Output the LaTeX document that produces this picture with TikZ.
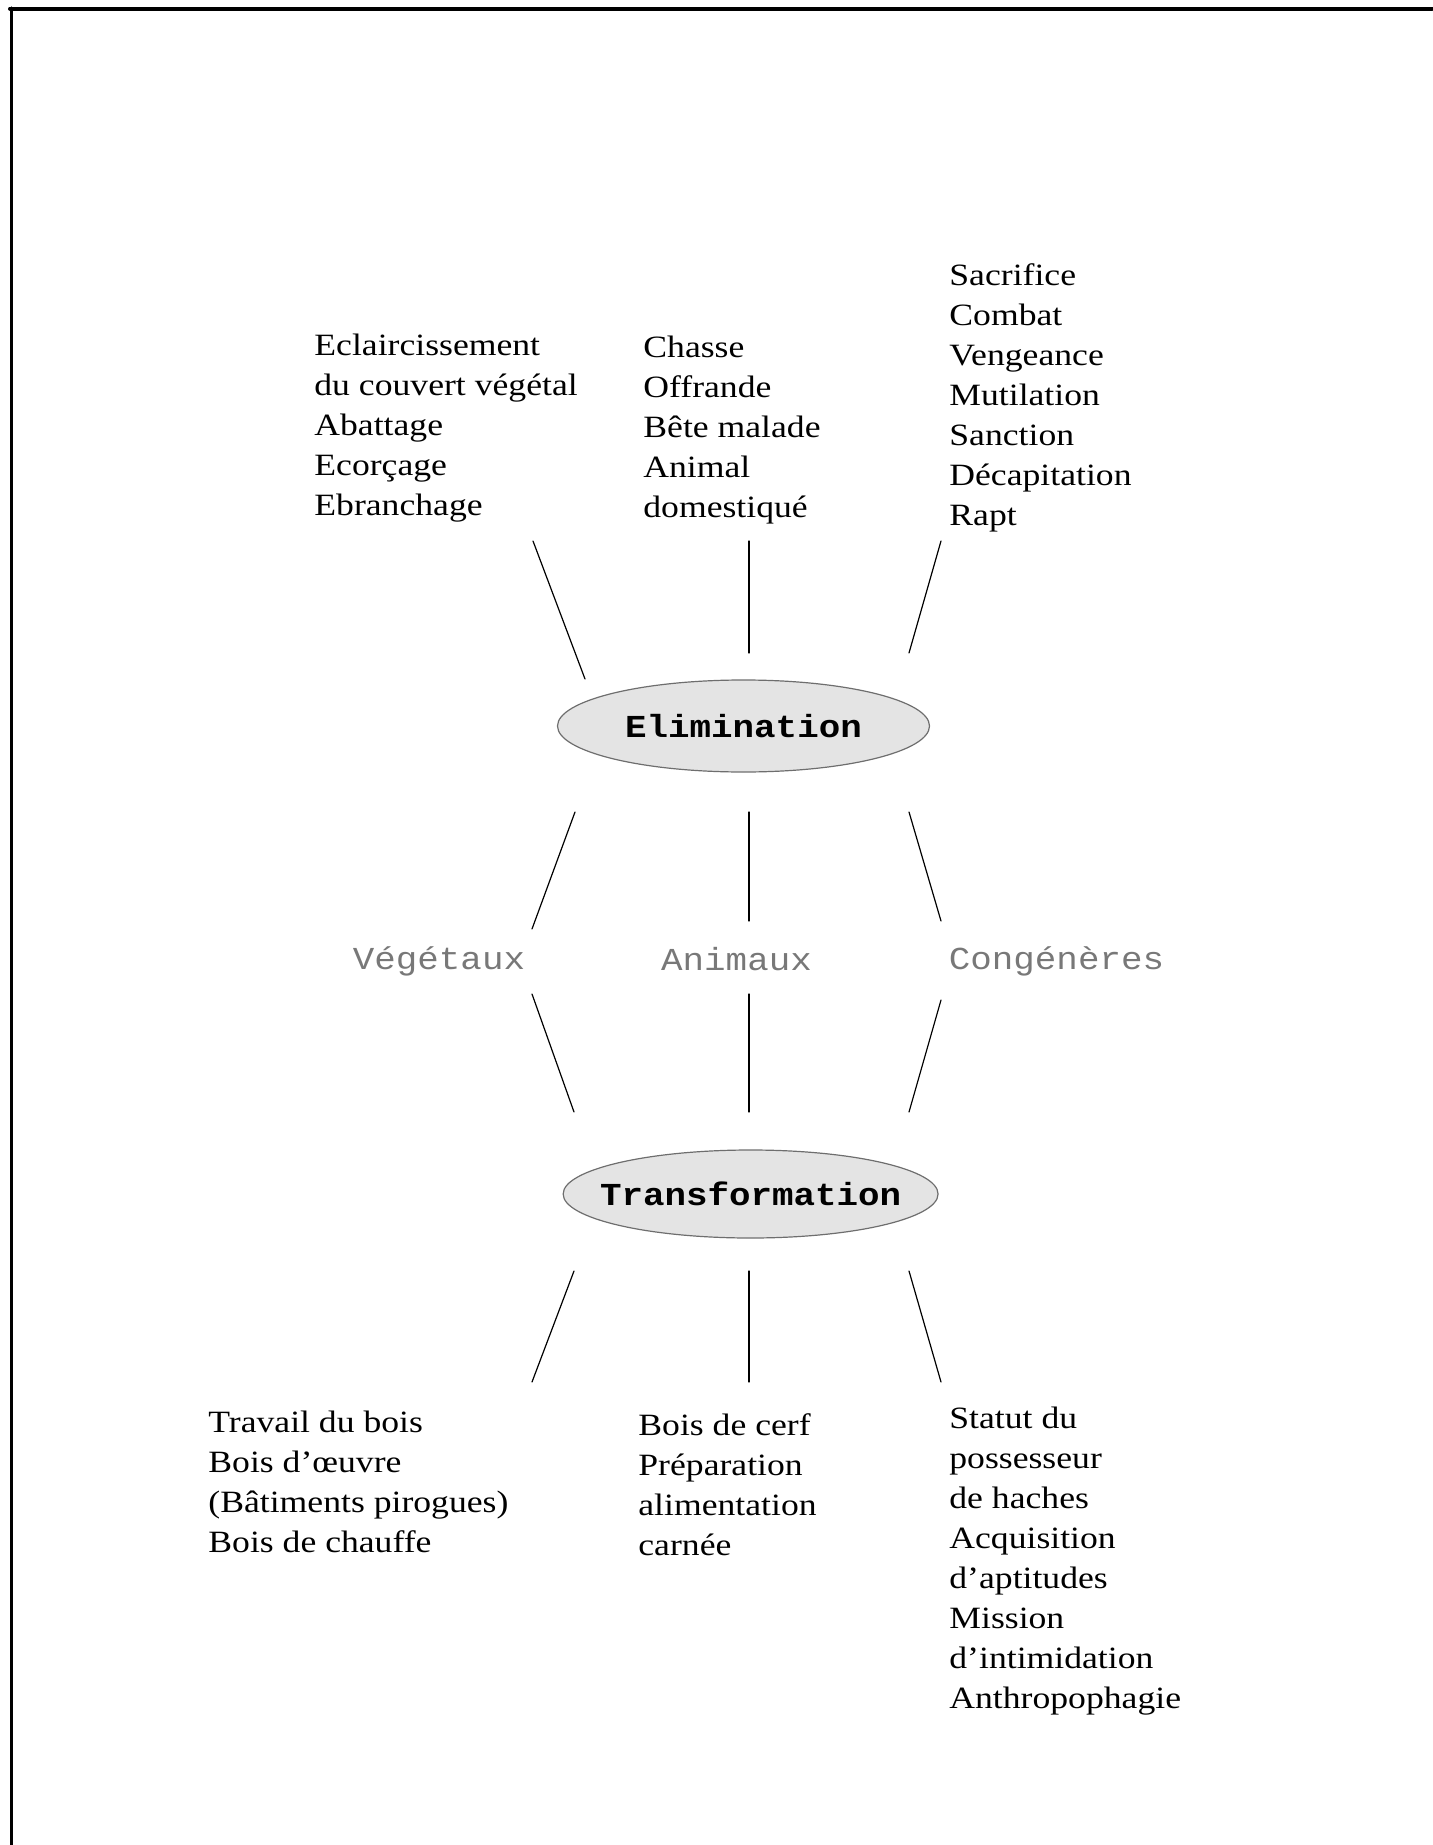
\documentclass[tikz,border=0pt]{standalone}
\usepackage{fontspec}
\setmainfont{Liberation Serif}[FakeStretch=1.15]
\setmonofont{Liberation Mono}[FakeStretch=1.12]
\usetikzlibrary{shapes.geometric}
\definecolor{ovalfill}{RGB}{228,228,228}
\definecolor{ovaldraw}{RGB}{110,110,110}
\definecolor{kindgray}{RGB}{120,120,120}
\begin{document}
\begin{tikzpicture}[x=0.5pt,y=-0.5pt,line cap=round,line join=round,
  list/.style={anchor=north west,inner sep=0pt,align=left,font=\fontsize{15.5}{20}\selectfont},
  oval/.style={ellipse,draw=ovaldraw,fill=ovalfill,line width=0.6pt,inner ysep=0pt,inner xsep=-9pt,
    minimum width=186pt,font=\ttfamily\bfseries\fontsize{16}{18}\selectfont},
  kind/.style={text=kindgray,font=\ttfamily\fontsize{16}{18}\selectfont},
  link/.style={line width=0.6pt}]
  \useasboundingbox (0,0) rectangle (1432,1845);
  \draw[line width=2pt] (10,8.7) -- (1432,8.7);
  \draw[line width=1.6pt] (11.7,8) -- (11.7,1845);

  \node[oval,minimum height=46pt] (elim) at (743.5,726) {Elimination};
  \node[oval,minimum height=44pt] (transf) at (750.6,1194) {Transformation};

  \node[kind] (veg) at (439,961) {Végétaux};
  \node[kind] (ani) at (736.5,959) {Animaux};
  \node[kind] (cong) at (1056.5,961) {Congénères};

  \node[list] (vegelim) at (314,334) {Eclaircissement\\du couvert végétal\\Abattage\\Ecorçage\\Ebranchage};
  \node[list] (anielim) at (643,336) {Chasse\\Offrande\\Bête malade\\Animal\\domestiqué};
  \node[list] (congelim) at (949,263) {Sacrifice\\Combat\\Vengeance\\Mutilation\\Sanction\\Décapitation\\Rapt};
  \node[list] (vegtrans) at (208,1411) {Travail du bois\\Bois d’œuvre\\(Bâtiments pirogues)\\Bois de chauffe};
  \node[list] (anitrans) at (638,1413) {Bois de cerf\\Préparation\\alimentation\\carnée};
  \node[list] (congtrans) at (949,1407) {Statut du\\possesseur\\de haches\\Acquisition\\d’aptitudes\\Mission\\d’intimidation\\Anthropophagie};

  \coordinate (ve1) at (533,541);  \coordinate (ve2) at (585,679);
  \coordinate (ae1) at (749,541);  \coordinate (ae2) at (749,653);
  \coordinate (ce1) at (941,541);  \coordinate (ce2) at (909,653);
  \coordinate (vk1) at (575,812);  \coordinate (vk2) at (532,929);
  \coordinate (ak1) at (749,812);  \coordinate (ak2) at (749,921);
  \coordinate (ck1) at (909,812);  \coordinate (ck2) at (941,921);
  \coordinate (vm1) at (532,994);  \coordinate (vm2) at (574,1112);
  \coordinate (am1) at (749,994);  \coordinate (am2) at (749,1112);
  \coordinate (cm1) at (941,1000); \coordinate (cm2) at (909,1112);
  \coordinate (vt1) at (574,1271); \coordinate (vt2) at (532,1382);
  \coordinate (at1) at (749,1271); \coordinate (at2) at (749,1382);
  \coordinate (ct1) at (909,1271); \coordinate (ct2) at (941,1382);

  \foreach \a/\b in {ve1/ve2,ae1/ae2,ce1/ce2,vk1/vk2,ak1/ak2,ck1/ck2,
                     vm1/vm2,am1/am2,cm1/cm2,vt1/vt2,at1/at2,ct1/ct2}
    \draw[link] (\a) -- (\b);
\end{tikzpicture}
\end{document}
